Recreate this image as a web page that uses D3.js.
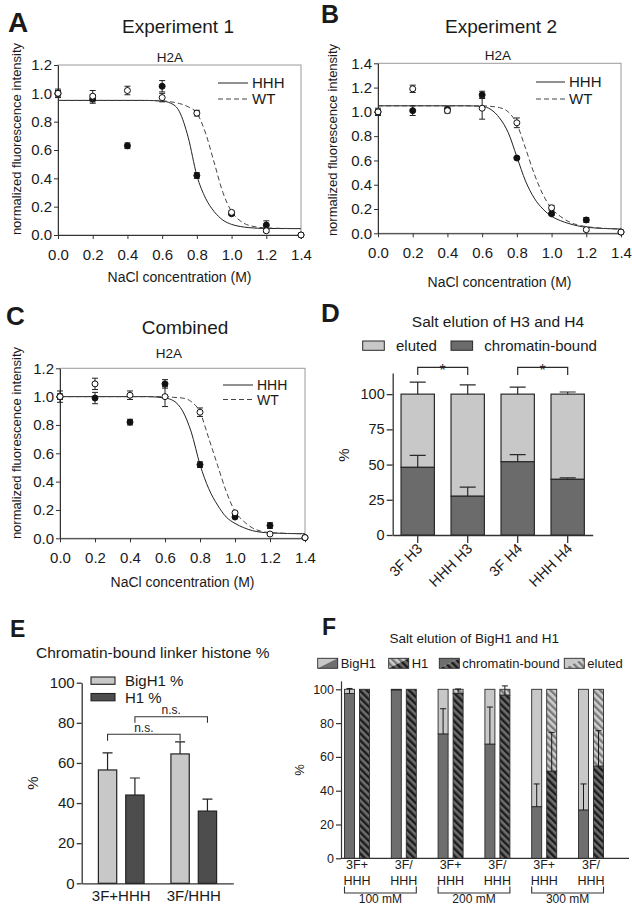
<!DOCTYPE html>
<html>
<head>
<meta charset="utf-8">
<script src="https://cdn.jsdelivr.net/npm/d3@7"></script>
<style>
  body { margin: 0; background: #fff; }
  svg { font-family: 'Liberation Sans', Arial, sans-serif; }
  text { fill: #1a1a1a; }
</style>
</head>
<body>
<script>
// ---- PANELS A-C: H2A SALT TITRATION ----
var nacl = [0, 0.2, 0.4, 0.6, 0.8, 1.0, 1.2, 1.4]
var ticks12 = [0, 0.2, 0.4, 0.6, 0.8, 1.0, 1.2]
var ticks14 = [0, 0.2, 0.4, 0.6, 0.8, 1.0, 1.2, 1.4]

var exp1HHH = [1.0, 0.96, 0.63, 1.05, 0.42, 0.15, 0.07, 0.0]
var exp1HHHErr = [0.02, 0.03, 0.02, 0.04, 0.02, 0.01, 0.03, 0]
var exp1WT = [1.0, 0.98, 1.02, 0.97, 0.86, 0.16, 0.03, 0.0]
var exp1WTErr = [0.03, 0.04, 0.03, 0.03, 0.02, 0.01, 0.01, 0]

var exp2HHH = [1.0, 1.01, 1.02, 1.14, 0.62, 0.16, 0.11, 0.01]
var exp2HHHErr = [0.02, 0.04, 0.02, 0.03, 0.01, 0.01, 0.02, 0]
var exp2WT = [1.0, 1.19, 1.01, 1.03, 0.91, 0.21, 0.03, 0.01]
var exp2WTErr = [0.03, 0.03, 0.02, 0.09, 0.04, 0.02, 0.01, 0]

var combHHH = [1.0, 0.99, 0.82, 1.09, 0.52, 0.15, 0.09, 0.005]
var combHHHErr = [0.02, 0.04, 0.02, 0.03, 0.02, 0.01, 0.02, 0]
var combWT = [1.0, 1.09, 1.01, 1.0, 0.89, 0.18, 0.03, 0.005]
var combWTErr = [0.04, 0.04, 0.03, 0.07, 0.03, 0.01, 0.01, 0]

// fitted curves at these concentrations
var fitX = [0, 0.5, 0.6, 0.65, 0.7, 0.75, 0.8, 0.85, 0.9, 0.95, 1.0, 1.05, 1.1, 1.2, 1.4]
var exp1FitHHH = [0.95, 0.95, 0.945, 0.93, 0.87, 0.69, 0.42, 0.26, 0.165, 0.105, 0.075, 0.06, 0.052, 0.046, 0.045]
var exp1FitWT = [0.95, 0.95, 0.947, 0.94, 0.928, 0.905, 0.86, 0.72, 0.51, 0.30, 0.165, 0.1, 0.068, 0.05, 0.045]
var exp2FitHHH = [1.05, 1.05, 1.045, 1.02, 0.95, 0.83, 0.63, 0.43, 0.29, 0.2, 0.14, 0.105, 0.08, 0.05, 0.035]
var exp2FitWT = [1.05, 1.05, 1.05, 1.045, 1.035, 1.0, 0.9, 0.7, 0.49, 0.32, 0.205, 0.14, 0.095, 0.055, 0.035]
var combFitHHH = [1.0, 1.0, 0.99, 0.97, 0.9, 0.75, 0.52, 0.35, 0.235, 0.15, 0.105, 0.075, 0.054, 0.038, 0.032]
var combFitWT = [1.0, 1.0, 1.0, 0.995, 0.99, 0.965, 0.89, 0.706, 0.517, 0.33, 0.19, 0.12, 0.073, 0.04, 0.032]

// ---- PANEL D: H3 / H4 ----
var dCats = ['3F H3', 'HHH H3', '3F H4', 'HHH H4']
var dBound = [48, 27.5, 52, 39.5]
var dBoundErr = [8.5, 6.5, 5, 1]
var dTotal = [100, 100, 100, 100]
var dTotalErr = [8.5, 6.5, 5, 1.5]
var dTicks = [0, 25, 50, 75, 100]

// ---- PANEL E: LINKER HISTONE ----
var eGroups = ['3F+HHH', '3F/HHH']
var eSeries = ['BigH1 %', 'H1 %']
var eBigH1 = [56.5, 64.5]
var eBigH1Err = [8.5, 6]
var eH1 = [44, 36]
var eH1Err = [8.5, 6]
var eTicks = [0, 20, 40, 60, 80, 100]

// ---- PANEL F: BIGH1 / H1 SALT ELUTION ----
var fConc = ['100 mM', '200 mM', '300 mM']
var fMix = ['3F+', '3F/']
var fBigH1Bound = [97.5, 99.5, 73.5, 67.5, 30.5, 28.5]
var fBigH1Err = [3, 0, 15, 22, 13.5, 15.5]
var fH1Bound = [100, 100, 97.5, 96.5, 51.5, 54.5]
var fH1Err = [0, 0, 2.7, 5.5, 23, 21]
var fTicks = [0, 20, 40, 60, 80, 100]

var svg = d3.select('body').append('svg').attr('width', 632).attr('height', 906)
var defs = svg.append('defs')

function hatch (id, bg, fg) {
  var p = defs.append('pattern').attr('id', id).attr('patternUnits', 'userSpaceOnUse')
    .attr('width', 5).attr('height', 5).attr('patternTransform', 'rotate(-45)')
  p.append('rect').attr('width', 5).attr('height', 5).attr('fill', bg)
  p.append('rect').attr('width', 2.4).attr('height', 5).attr('fill', fg)
}
hatch('hatchDark', '#6e6e6e', '#1c1c1c')
hatch('hatchLight', '#cfcfcf', '#7a7a7a')

function styleAxis (g, size, sw) {
  g.attr('font-family', null).attr('font-size', size)
  g.selectAll('path, line').attr('stroke', '#333').attr('stroke-width', sw || 1)
  g.selectAll('text').attr('fill', '#1a1a1a')
  return g
}

function label (txt, x, y, size, opts) {
  var t = svg.append('text').text(txt).attr('x', x).attr('y', y).attr('font-size', size).attr('fill', '#1a1a1a')
  if (opts && opts.bold) t.attr('font-weight', 'bold')
  if (opts && opts.anchor) t.attr('text-anchor', opts.anchor)
  if (opts && opts.rotate) t.attr('transform', 'rotate(-90,' + x + ',' + y + ')')
  return t
}

// vertical error bar path with caps (null when there is no error)
function errPath (cx, y1, y2, half) {
  if (y1 === y2) return null
  return 'M' + (cx - half) + ',' + y2 + 'H' + (cx + half) + 'M' + cx + ',' + y2 + 'V' + y1 +
    'M' + (cx - half) + ',' + y1 + 'H' + (cx + half)
}
// one-sided (upward) error bar
function upErr (cx, y1, y2, half) {
  if (y1 === y2) return null
  return 'M' + (cx - half) + ',' + y2 + 'H' + (cx + half) + 'M' + cx + ',' + y2 + 'V' + y1
}

// ---- TITRATION PANEL ----
function titration (p) {
  var x = d3.scaleLinear().domain([0, 1.4]).range([p.left, p.right])
  var y = d3.scaleLinear().domain([0, p.yTicks[p.yTicks.length - 1]]).range([p.bottom, p.top])
  var g = svg.append('g')

  g.append('rect').attr('x', p.left).attr('y', p.top)
    .attr('width', p.right - p.left).attr('height', p.bottom - p.top)
    .attr('fill', 'none').attr('stroke', '#9a9a9a')

  styleAxis(g.append('g').attr('transform', 'translate(0,' + p.bottom + ')')
    .call(d3.axisBottom(x).tickValues(nacl).tickFormat(d3.format('.1f')).tickSize(4).tickPadding(10).tickSizeOuter(0)), 15)
  styleAxis(g.append('g').attr('transform', 'translate(' + p.left + ',0)')
    .call(d3.axisLeft(y).tickValues(p.yTicks).tickFormat(d3.format('.1f')).tickSize(4).tickPadding(2).tickSizeOuter(0)), 15)

  var line = d3.line()
    .x(function (d, i) { return x(fitX[i]) })
    .y(function (d) { return y(d) })
    .curve(d3.curveMonotoneX)
  g.append('path').attr('d', line(p.fitHHH)).attr('fill', 'none').attr('stroke', '#222').attr('stroke-width', 1)
  g.append('path').attr('d', line(p.fitWT)).attr('fill', 'none').attr('stroke', '#444')
    .attr('stroke-width', 1).attr('stroke-dasharray', '5,3')

  // FILLED = HHH, OPEN = WT (drawn on top)
  var sets = [[p.hhh, p.hhhErr, '#111'], [p.wt, p.wtErr, '#fff']]
  sets.forEach(function (s) {
    g.selectAll(null).data(s[0]).enter().append('path')
      .attr('d', function (d, i) { return errPath(x(nacl[i]), y(d - s[1][i]), y(d + s[1][i]), 3) })
      .attr('stroke', '#222').attr('fill', 'none')
    g.selectAll(null).data(s[0]).enter().append('circle')
      .attr('cx', function (d, i) { return x(nacl[i]) })
      .attr('cy', function (d) { return y(d) })
      .attr('r', 3)
      .attr('fill', s[2]).attr('stroke', '#111')
  })

  // legend
  var lg = p.legend
  g.append('line').attr('x1', lg.x).attr('x2', lg.x + lg.w).attr('y1', lg.y).attr('y2', lg.y).attr('stroke', '#222')
  g.append('line').attr('x1', lg.x).attr('x2', lg.x + lg.w).attr('y1', lg.y + lg.dy).attr('y2', lg.y + lg.dy)
    .attr('stroke', '#444').attr('stroke-dasharray', '5,3')
  label('HHH', lg.x + lg.w + 4, lg.y + 5.3, lg.size)
  label('WT', lg.x + lg.w + 4, lg.y + lg.dy + 5.3, lg.size)

  label(p.title, p.titleX, p.titleY, 19, { anchor: 'middle' })
  label('H2A', p.subX, p.subY, 13.5, { anchor: 'middle' })
  label('NaCl concentration (M)', (p.left + p.right) / 2, p.xTitleY, 14, { anchor: 'middle' })
  label('normalized fluorescence intensity', p.yTitleX, p.yTitleY, 13, { anchor: 'middle', rotate: true })
}

titration({
  left: 58, right: 301, top: 65, bottom: 235, yTicks: ticks12,
  hhh: exp1HHH, hhhErr: exp1HHHErr, wt: exp1WT, wtErr: exp1WTErr, fitHHH: exp1FitHHH, fitWT: exp1FitWT,
  legend: { x: 218, w: 30, y: 83, dy: 16, size: 15 },
  title: 'Experiment 1', titleX: 178, titleY: 33, subX: 170, subY: 62,
  xTitleY: 282, yTitleX: 21, yTitleY: 139
})
titration({
  left: 378, right: 621, top: 63.3, bottom: 233.3, yTicks: ticks14,
  hhh: exp2HHH, hhhErr: exp2HHHErr, wt: exp2WT, wtErr: exp2WTErr, fitHHH: exp2FitHHH, fitWT: exp2FitWT,
  legend: { x: 536, w: 29, y: 82, dy: 17, size: 15 },
  title: 'Experiment 2', titleX: 501, titleY: 33, subX: 498, subY: 60,
  xTitleY: 287, yTitleX: 337, yTitleY: 140
})
titration({
  left: 60, right: 305, top: 368.3, bottom: 538.3, yTicks: ticks12,
  hhh: combHHH, hhhErr: combHHHErr, wt: combWT, wtErr: combWTErr, fitHHH: combFitHHH, fitWT: combFitWT,
  legend: { x: 223, w: 30, y: 385, dy: 14.5, size: 14 },
  title: 'Combined', titleX: 185, titleY: 334, subX: 169, subY: 358,
  xTitleY: 587, yTitleX: 21, yTitleY: 443
})

label('A', 8, 32, 28, { bold: true })
label('B', 321, 23, 25, { bold: true })
label('C', 6, 325, 26, { bold: true })
label('D', 321, 321.5, 26, { bold: true })
label('E', 10, 636.5, 23, { bold: true })
label('F', 322, 635, 23, { bold: true })

// ---- PANEL D ----
var xD = d3.scaleBand().domain(dCats).range([392.7, 592.7]).paddingInner(0.333).paddingOuter(0.167)
var yD = d3.scaleLinear().domain([0, 115]).range([535, 373])
var gD = svg.append('g')

styleAxis(gD.append('g').attr('transform', 'translate(392.7,0)')
  .call(d3.axisLeft(yD).tickValues(dTicks).tickSize(6).tickPadding(2).tickSizeOuter(0)), 14.5, 1.3)
var axD = styleAxis(gD.append('g').attr('transform', 'translate(0,535)')
  .call(d3.axisBottom(xD).tickSize(8).tickSizeOuter(0)), 14.5, 1.3)
axD.selectAll('text').attr('x', 0).attr('y', 0).attr('dy', '0.35em')
  .attr('transform', 'translate(2,11) rotate(-45)').style('text-anchor', 'end')

// eluted on top of chromatin-bound
gD.selectAll('.eluted').data(dTotal).enter().append('rect')
  .attr('x', function (d, i) { return xD(dCats[i]) })
  .attr('y', function (d) { return yD(d) })
  .attr('width', xD.bandwidth())
  .attr('height', function (d, i) { return yD(dBound[i]) - yD(d) })
  .attr('fill', '#c8c8c8').attr('stroke', '#2a2a2a').attr('stroke-width', 1.2)
gD.selectAll('.bound').data(dBound).enter().append('rect')
  .attr('x', function (d, i) { return xD(dCats[i]) })
  .attr('y', function (d) { return yD(d) })
  .attr('width', xD.bandwidth())
  .attr('height', function (d) { return yD(0) - yD(d) })
  .attr('fill', '#6b6b6b').attr('stroke', '#2a2a2a').attr('stroke-width', 1.2)
gD.selectAll('.errTot').data(dTotal).enter().append('path')
  .attr('d', function (d, i) {
    var cx = xD(dCats[i]) + xD.bandwidth() / 2
    return upErr(cx, yD(d), yD(d + dTotalErr[i]), 8)
  })
  .attr('stroke', '#2a2a2a').attr('stroke-width', 1.2).attr('fill', 'none')
gD.selectAll('.errBound').data(dBound).enter().append('path')
  .attr('d', function (d, i) {
    var cx = xD(dCats[i]) + xD.bandwidth() / 2
    return upErr(cx, yD(d), yD(d + dBoundErr[i]), 8)
  })
  .attr('stroke', '#2a2a2a').attr('stroke-width', 1.2).attr('fill', 'none')

// significance brackets
var dPairs = [[0, 1], [2, 3]]
dPairs.forEach(function (pr) {
  var a = xD(dCats[pr[0]]) + xD.bandwidth() / 2
  var b = xD(dCats[pr[1]]) + xD.bandwidth() / 2
  gD.append('path').attr('d', 'M' + a + ',' + yD(113.5) + 'V' + yD(119) + 'H' + b + 'V' + yD(113.5))
    .attr('fill', 'none').attr('stroke', '#2a2a2a').attr('stroke-width', 1.2)
  label('*', (a + b) / 2, yD(119) + 9, 16, { anchor: 'middle' })
})

label('Salt elution of H3 and H4', 498, 327, 15.5, { anchor: 'middle' })
gD.append('rect').attr('x', 362.7).attr('y', 341).attr('width', 21.6).attr('height', 9.3)
  .attr('fill', '#c8c8c8').attr('stroke', '#2a2a2a')
label('eluted', 396, 350.5, 15)
gD.append('rect').attr('x', 451).attr('y', 341).attr('width', 21.6).attr('height', 9.3)
  .attr('fill', '#6b6b6b').attr('stroke', '#2a2a2a')
label('chromatin-bound', 484.3, 350.5, 15)
label('%', 349, 455, 15, { anchor: 'middle', rotate: true })

// ---- PANEL E ----
var xE = d3.scaleBand().domain(eGroups).range([81.7, 233.3]).paddingInner(0.37).paddingOuter(0.23)
var xE1 = d3.scaleBand().domain(eSeries).range([0, xE.bandwidth()]).paddingInner(0.33)
var yE = d3.scaleLinear().domain([0, 100]).range([883.3, 682.7])
var gE = svg.append('g')

styleAxis(gE.append('g').attr('transform', 'translate(81.7,0)')
  .call(d3.axisLeft(yE).tickValues(eTicks).tickSize(5).tickPadding(2).tickSizeOuter(0)), 15, 1.3)
styleAxis(gE.append('g').attr('transform', 'translate(0,883.3)')
  .call(d3.axisBottom(xE).tickSize(0).tickPadding(7).tickSizeOuter(0)), 15, 1.3)

var eData = [[eBigH1, eBigH1Err, '#c8c8c8'], [eH1, eH1Err, '#4d4d4d']]
eData.forEach(function (s, k) {
  var off = xE1(eSeries[k])
  gE.selectAll(null).data(s[0]).enter().append('path')
    .attr('d', function (d, i) {
      var cx = xE(eGroups[i]) + off + xE1.bandwidth() / 2
      return upErr(cx, yE(d), yE(d + s[1][i]), 5)
    })
    .attr('stroke', '#222').attr('stroke-width', 1.2).attr('fill', 'none')
  gE.selectAll(null).data(s[0]).enter().append('rect')
    .attr('x', function (d, i) { return xE(eGroups[i]) + off })
    .attr('y', function (d) { return yE(d) })
    .attr('width', xE1.bandwidth())
    .attr('height', function (d) { return yE(0) - yE(d) })
    .attr('fill', s[2]).attr('stroke', '#222').attr('stroke-width', 1.2)
})

// n.s. brackets: BigH1 vs BigH1, H1 vs H1
var eBrackets = [[eSeries[0], 74.3, 71.1], [eSeries[1], 83, 80]]
eBrackets.forEach(function (bk) {
  var a = xE(eGroups[0]) + xE1(bk[0]) + xE1.bandwidth() / 2
  var b = xE(eGroups[1]) + xE1(bk[0]) + xE1.bandwidth() / 2
  gE.append('path').attr('d', 'M' + a + ',' + yE(bk[2]) + 'V' + yE(bk[1]) + 'H' + b + 'V' + yE(bk[2]))
    .attr('fill', 'none').attr('stroke', '#333').attr('stroke-width', 1.1)
  label('n.s.', (a + b) / 2, yE(bk[1]) - 2.5, 12, { anchor: 'middle' })
})

label('Chromatin-bound linker histone %', 36, 657.5, 15.5)
gE.append('rect').attr('x', 91).attr('y', 677).attr('width', 24).attr('height', 7.3)
  .attr('fill', '#c8c8c8').attr('stroke', '#222').attr('stroke-width', 1.1)
label(eSeries[0], 125, 686, 15)
gE.append('rect').attr('x', 91).attr('y', 693.5).attr('width', 24).attr('height', 7.3)
  .attr('fill', '#4d4d4d').attr('stroke', '#222').attr('stroke-width', 1.1)
label(eSeries[1], 125, 702.5, 15)
label('%', 38, 783, 15, { anchor: 'middle', rotate: true })

// ---- PANEL F ----
var fPairs = d3.cross(fConc, fMix)
var xF = d3.scaleBand().domain(d3.range(fPairs.length)).range([333.6, 614.4])
var xF1 = d3.scaleBand().domain(['BigH1', 'H1']).range([-12.5, 12.5]).paddingInner(0.333)
var yF = d3.scaleLinear().domain([0, 105]).range([858.3, 680.85])
var gF = svg.append('g')

styleAxis(gF.append('g').attr('transform', 'translate(341,0)')
  .call(d3.axisLeft(yF).tickValues(fTicks).tickSize(5).tickPadding(2).tickSizeOuter(0)), 12.5, 1.2)
gF.append('line').attr('x1', 341).attr('x2', 629).attr('y1', yF(0)).attr('y2', yF(0))
  .attr('stroke', '#333').attr('stroke-width', 1.2)

function fCenter (i) { return xF(i) + xF.bandwidth() / 2 }

var fBars = [
  ['BigH1', fBigH1Bound, fBigH1Err, '#6e6e6e', '#c8c8c8'],
  ['H1', fH1Bound, fH1Err, 'url(#hatchDark)', 'url(#hatchLight)']
]
fBars.forEach(function (s) {
  gF.selectAll(null).data(s[1]).enter().append('rect')
    .attr('x', function (d, i) { return fCenter(i) + xF1(s[0]) })
    .attr('y', yF(100))
    .attr('width', xF1.bandwidth())
    .attr('height', function (d) { return yF(d) - yF(100) })
    .attr('fill', s[4]).attr('stroke', '#2a2a2a').attr('stroke-width', 0.9)
  gF.selectAll(null).data(s[1]).enter().append('rect')
    .attr('x', function (d, i) { return fCenter(i) + xF1(s[0]) })
    .attr('y', function (d) { return yF(d) })
    .attr('width', xF1.bandwidth())
    .attr('height', function (d) { return yF(0) - yF(d) })
    .attr('fill', s[3]).attr('stroke', '#2a2a2a').attr('stroke-width', 0.9)
  gF.selectAll(null).data(s[1]).enter().append('path')
    .attr('d', function (d, i) {
      var cx = fCenter(i) + xF1(s[0]) + xF1.bandwidth() / 2
      return upErr(cx, yF(d), yF(d + s[2][i]), 3)
    })
    .attr('stroke', '#1a1a1a').attr('stroke-width', 1).attr('fill', 'none')
})

fPairs.forEach(function (pr, i) {
  label(pr[1], fCenter(i), 869, 12.5, { anchor: 'middle' })
  label('HHH', fCenter(i), 884.5, 12.5, { anchor: 'middle' })
})
fConc.forEach(function (c, k) {
  var a = fCenter(2 * k) + xF1('BigH1')
  var b = fCenter(2 * k + 1) + xF1('H1') + xF1.bandwidth()
  gF.append('path').attr('d', 'M' + a + ',886.5V893H' + b + 'V886.5')
    .attr('fill', 'none').attr('stroke', '#333').attr('stroke-width', 1.1)
  label(c, (a + b) / 2, 903, 12, { anchor: 'middle' })
})

label('Salt elution of BigH1 and H1', 474.3, 643, 13.5, { anchor: 'middle' })
label('%', 304, 770, 13, { anchor: 'middle', rotate: true })

// legend swatches split on the diagonal
var fLegend = [
  ['BigH1', 317.7, '#c8c8c8', '#6e6e6e'],
  ['H1', 388.7, 'url(#hatchLight)', 'url(#hatchDark)'],
  ['chromatin-bound', 439.3, '#6e6e6e', 'url(#hatchDark)'],
  ['eluted', 564.3, '#c8c8c8', 'url(#hatchLight)']
]
fLegend.forEach(function (it) {
  var x = it[1], y = 658.3, w = 20, h = 10
  gF.append('path').attr('d', 'M' + x + ',' + y + 'h' + w + 'L' + x + ',' + (y + h) + 'Z').attr('fill', it[2])
  gF.append('path').attr('d', 'M' + (x + w) + ',' + y + 'v' + h + 'h' + (-w) + 'Z').attr('fill', it[3])
  gF.append('rect').attr('x', x).attr('y', y).attr('width', w).attr('height', h)
    .attr('fill', 'none').attr('stroke', '#2a2a2a').attr('stroke-width', 0.9)
  label(it[0], x + w + 3, y + 9.5, 13)
})
</script>
</body>
</html>
